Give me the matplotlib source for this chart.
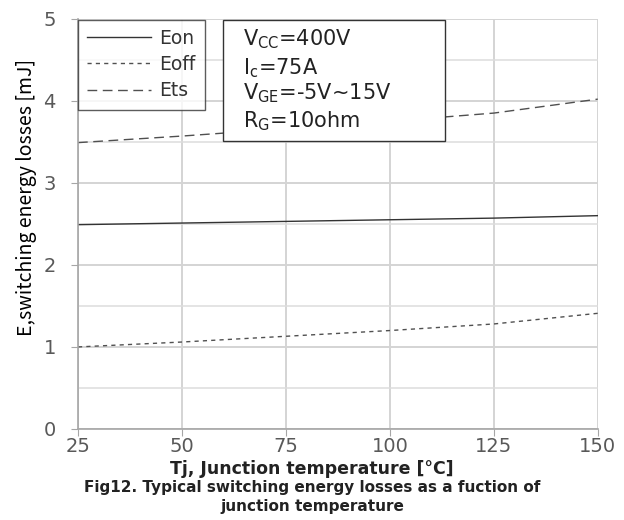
import matplotlib
matplotlib.use("Agg")
import matplotlib.pyplot as plt
from matplotlib import font_manager
from matplotlib.patches import Rectangle
from matplotlib.ticker import MultipleLocator

# Junction temperature [°C]
tj = [25, 50, 75, 100, 125, 150]

# switching energy losses [mJ]
eon = [2.49, 2.51, 2.53, 2.55, 2.57, 2.60]
eoff = [1.00, 1.06, 1.13, 1.20, 1.28, 1.41]
ets = [3.49, 3.57, 3.66, 3.75, 3.85, 4.02]

x_ticks = [25, 50, 75, 100, 125, 150]
y_ticks = [0, 1, 2, 3, 4, 5]

cond_lines = [
    r"$\mathregular{V_{CC}}$=400V",
    r"$\mathregular{I_{c}}$=75A",
    r"$\mathregular{V_{GE}}$=-5V~15V",
    r"$\mathregular{R_{G}}$=10ohm",
]


def have_font(name):
    try:
        font_manager.findfont(name, fallback_to_default=False)
        return True
    except Exception:
        return False


plt.rcParams["font.family"] = ["DejaVu Sans"]

fig = plt.figure(figsize=(6.24, 5.2), dpi=100)
ax = fig.add_axes([0.125, 0.175, 0.833, 0.789])

ax.plot(tj, eon, color="#333333", lw=1.0, ls="-", label="Eon")
ax.plot(tj, eoff, color="#505050", lw=1.0, ls=(0, (3, 3)), label="Eoff")
ax.plot(tj, ets, color="#505050", lw=1.0, ls=(0, (7, 4)), label="Ets")

ax.set_xlim(25, 150)
ax.set_ylim(0, 5)
ax.set_xticks(x_ticks)
ax.set_yticks(y_ticks)
ax.yaxis.set_minor_locator(MultipleLocator(0.5))

ax.grid(True, which="major", color="#d4d4d4", lw=1.4)
ax.grid(True, which="minor", axis="y", color="#dcdcdc", lw=1.1)
ax.set_axisbelow(True)

for s in ["top", "right"]:
    ax.spines[s].set_visible(False)
for s in ["left", "bottom"]:
    ax.spines[s].set_color("#a6a6a6")
    ax.spines[s].set_linewidth(1.2)

ax.tick_params(axis="both", which="major", colors="#a6a6a6", labelcolor="#595959",
               labelsize=14, length=5)
ax.tick_params(axis="y", which="minor", length=0)
ax.tick_params(axis="y", pad=11)
ax.tick_params(axis="x", pad=1)

# y label: condensed face if available
if have_font("Liberation Sans Narrow"):
    ax.set_ylabel("E,switching energy losses [mJ]", fontsize=14, color="black",
                  family="Liberation Sans Narrow")
else:
    ax.set_ylabel("E,switching energy losses [mJ]", fontsize=14, color="black",
                  family="Noto Sans CJK SC")
ax.yaxis.set_label_coords(-0.079, 0.565)

fig.text(0.5, 0.098, "Tj, Junction temperature [\u00b0C]", ha="center", va="center",
         fontsize=12.5, fontweight="bold", color="#222222")
fig.text(0.5, 0.0625, "Fig12. Typical switching energy losses as a fuction of",
         ha="center", va="center", fontsize=11, fontweight="bold", color="#222222")
fig.text(0.5, 0.026, "junction temperature",
         ha="center", va="center", fontsize=11, fontweight="bold", color="#222222")

leg = ax.legend(loc="upper left", bbox_to_anchor=(0.0, 0.998), fontsize=13.5,
                frameon=True, fancybox=False, edgecolor="#333333",
                handlelength=3.4, handletextpad=0.45, borderpad=0.5,
                labelspacing=0.38, borderaxespad=0.0)
leg.get_frame().set_linewidth(1.0)
for t in leg.get_texts():
    t.set_color("#333333")

# test conditions box
ax.add_patch(Rectangle((0.279, 0.702), 0.427, 0.296, transform=ax.transAxes,
                       facecolor="white", edgecolor="#333333", lw=1.0, zorder=5))
cond_y = [0.949, 0.880, 0.818, 0.751]
for txt, yy in zip(cond_lines, cond_y):
    ax.text(0.317, yy, txt, transform=ax.transAxes, ha="left", va="center",
            fontsize=15, color="#222222", zorder=6)

fig.savefig("out.png", dpi=100)
